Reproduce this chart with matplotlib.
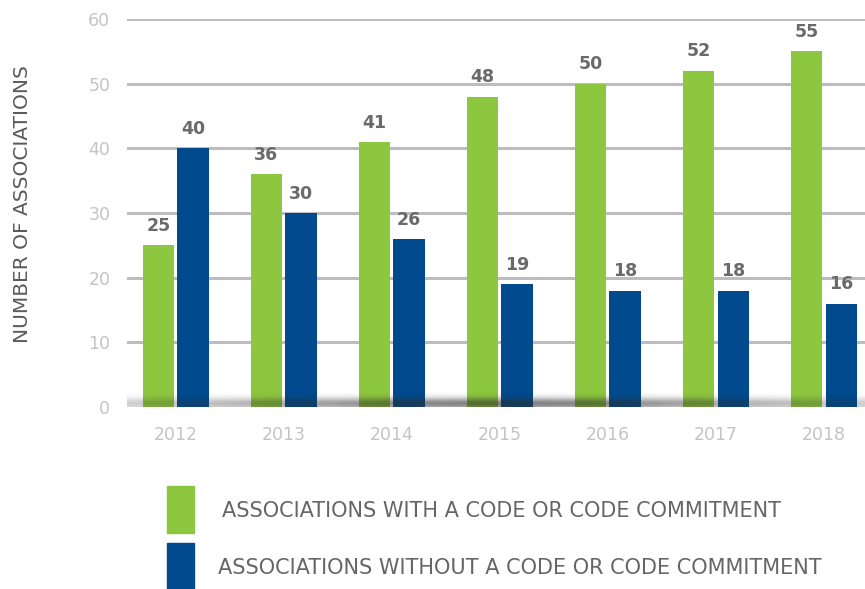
import numpy as np
import matplotlib
matplotlib.use("Agg")
import matplotlib.pyplot as plt

years = ["2012", "2013", "2014", "2015", "2016", "2017", "2018"]
with_code = [25, 36, 41, 48, 50, 52, 55]
without_code = [40, 30, 26, 19, 18, 18, 16]
yticks = [0, 10, 20, 30, 40, 50, 60]
legend_labels = ["ASSOCIATIONS WITH A CODE OR CODE COMMITMENT",
                 "ASSOCIATIONS WITHOUT A CODE OR CODE COMMITMENT"]
ylabel = "NUMBER OF ASSOCIATIONS"

GREEN = "#8dc63f"
BLUE = "#004a8d"

plt.rcParams['font.family'] = ['DejaVu Sans']
fig = plt.figure(figsize=(8.65, 5.89), dpi=100)
ax = fig.add_axes([127/865, 1-407/589, 1-127/865, (407-19)/589])

x = np.arange(len(years))
w = 0.29
off = 0.16
ax.bar(x - off, with_code, width=w, color=GREEN, zorder=2)
ax.bar(x + off, without_code, width=w, color=BLUE, zorder=2)

for xi, v in zip(x, with_code):
    ax.text(xi - off, v + 1.6, str(v), ha="center", va="bottom", fontsize=12.5,
            fontweight="bold", color="#6a6a6a", zorder=4)
for xi, v in zip(x, without_code):
    ax.text(xi + off, v + 1.6, str(v), ha="center", va="bottom", fontsize=12.5,
            fontweight="bold", color="#6a6a6a", zorder=4)

ax.set_xlim(-0.45, 6.38)
ax.set_ylim(0, 60)
for t in yticks[1:]:
    ax.axhline(t, color="#bdbdc0", lw=2.2, zorder=1)
ax.axhline(0, color="#e6e6e6", lw=1.0, zorder=1)

# soft shadow along the base
xs = np.linspace(-0.45, 6.38, 400)
ys = np.linspace(0, 2.8, 60)
X, Y = np.meshgrid(xs, ys)
alpha = 0.6 * np.exp(-((Y - 0.5) / 0.85) ** 2) * (0.25 + 0.75 * np.exp(-((X - 3.0) / 2.6) ** 2))
img = np.zeros((len(ys), len(xs), 4))
img[..., :3] = 0.18
img[..., 3] = alpha
ax.imshow(img, extent=(-0.45, 6.38, 0, 2.8), origin="lower", aspect="auto", zorder=3,
          interpolation="bilinear")
ax.set_xlim(-0.45, 6.38)
ax.set_ylim(0, 60)

for s in ax.spines.values():
    s.set_visible(False)
ax.set_xticks(x)
ax.set_xticklabels(years)
ax.set_yticks(yticks)
ax.tick_params(axis="both", length=0, labelsize=12.5, labelcolor="#c4c4c4")
ax.tick_params(axis="x", pad=14)
ax.tick_params(axis="y", pad=12)

fig.text(23/865, 1-204/589, ylabel, rotation=90, ha="center", va="center",
         fontsize=14.5, color="#5a5a5a")

# legend
fig.patches.append(plt.Rectangle((167/865, 1-533/589), 27/865, 47/589,
                                 transform=fig.transFigure, color=GREEN))
fig.patches.append(plt.Rectangle((167/865, 1-589/589), 27/865, 46/589,
                                 transform=fig.transFigure, color=BLUE))
fig.text(222/865, 1-511/589, legend_labels[0], ha="left", va="center",
         fontsize=15, color="#666666")
fig.text(218/865, 1-568/589, legend_labels[1], ha="left", va="center",
         fontsize=15, color="#666666")

fig.savefig("out.png", dpi=100)
